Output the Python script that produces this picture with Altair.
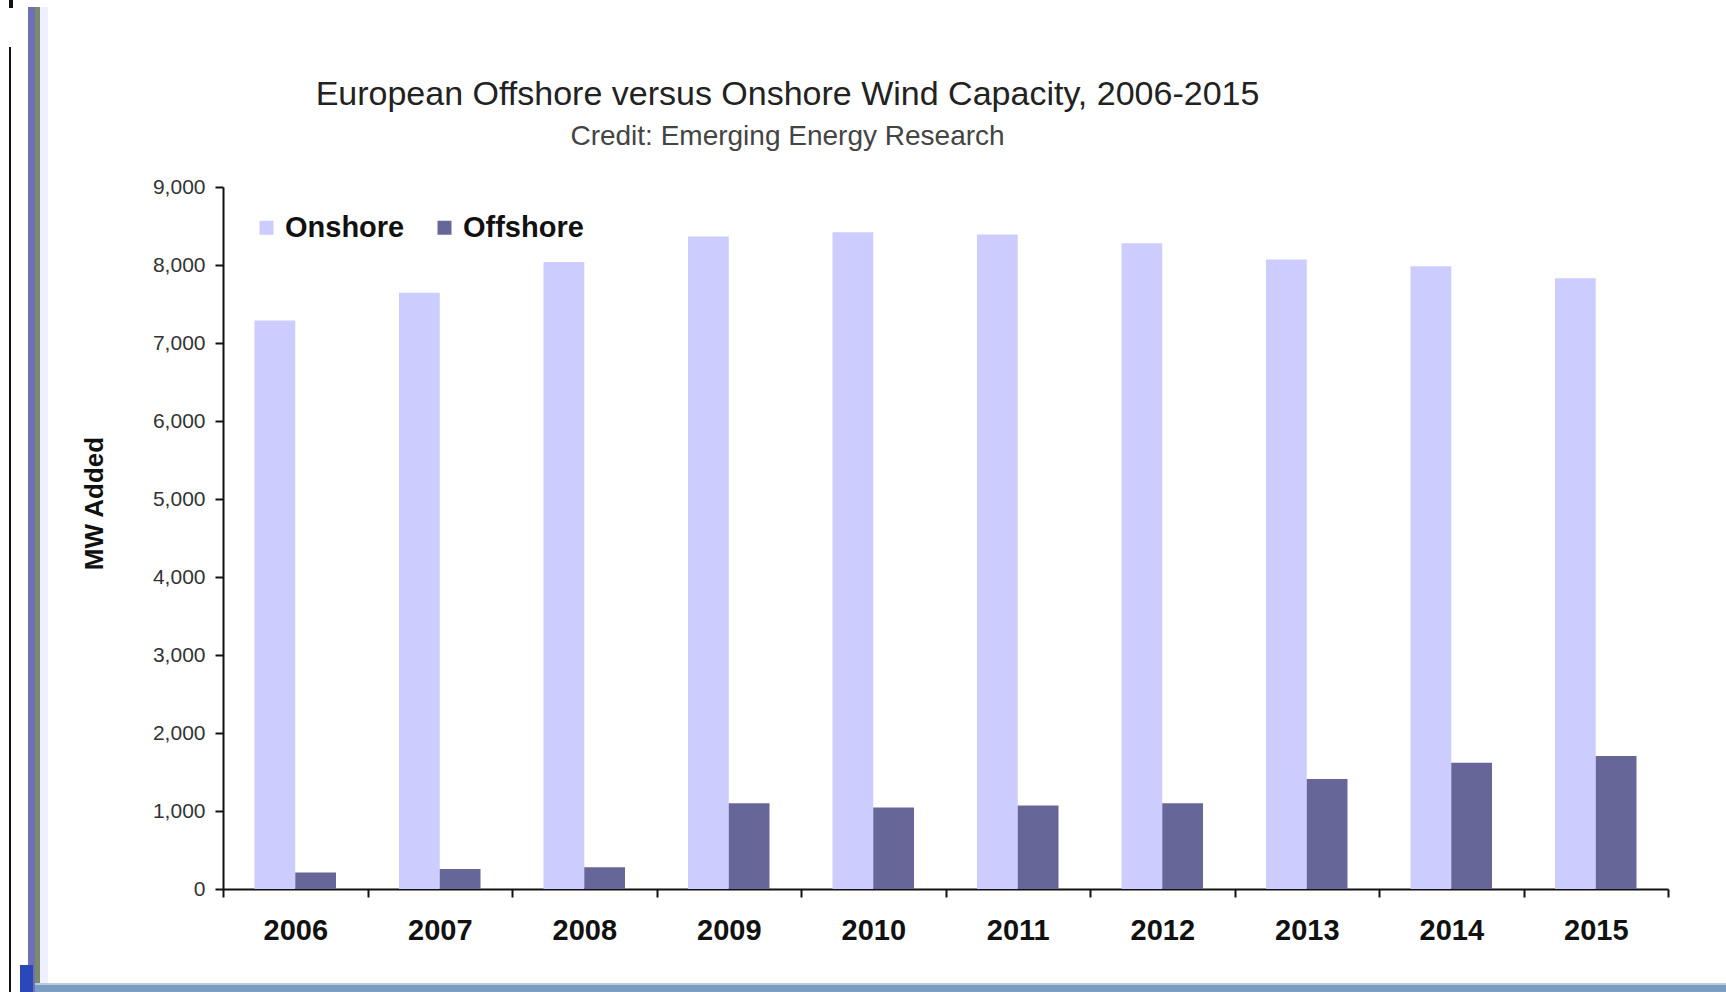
import altair as alt
import pandas as pd

years = ["2006", "2007", "2008", "2009", "2010", "2011", "2012", "2013", "2014", "2015"]
onshore = [7290, 7645, 8040, 8365, 8420, 8390, 8280, 8070, 7985, 7830]
offshore = [210, 255, 280, 1100, 1045, 1070, 1100, 1410, 1620, 1705]
series = ["Onshore", "Offshore"]
colors = ["#CCCCFF", "#666699"]
y_ticks = [0, 1000, 2000, 3000, 4000, 5000, 6000, 7000, 8000, 9000]

df = pd.DataFrame({
    "Year": years + years,
    "Series": [series[0]] * len(years) + [series[1]] * len(years),
    "MW": onshore + offshore,
})

bars = alt.Chart(df).mark_bar().encode(
    x=alt.X(
        "Year:N",
        sort=years,
        scale=alt.Scale(paddingInner=0, paddingOuter=0),
        axis=alt.Axis(
            title=None, tickBand="extent", labelAngle=0, labelFont="Liberation Sans",
            labelFontSize=29, labelFontWeight="bold", labelColor="#111111",
            labelPadding=19, tickSize=8, tickWidth=2, tickColor="#111111",
            domainColor="#111111", domainWidth=2, grid=False,
        ),
    ),
    xOffset=alt.XOffset("Series:N", sort=series,
                        scale=alt.Scale(paddingInner=0, paddingOuter=0.773)),
    y=alt.Y(
        "MW:Q",
        scale=alt.Scale(domain=[0, 9000], nice=False),
        axis=alt.Axis(
            values=y_ticks, format=",d", title="MW Added",
            titleFont="Liberation Sans", titleFontSize=26, titleFontWeight="bold",
            titleColor="#111111", titleAngle=270, titleX=-129, titleY=316,
            titleAlign="center", titleBaseline="middle",
            labelFont="Liberation Sans", labelFontSize=21, labelColor="#333333",
            labelPadding=10, tickSize=8, tickWidth=2, tickColor="#111111",
            domainColor="#111111", domainWidth=2, grid=False,
        ),
    ),
    color=alt.Color(
        "Series:N",
        sort=series,
        scale=alt.Scale(domain=series, range=colors),
        legend=alt.Legend(
            title=None, orient="none", legendX=29, legendY=26, direction="horizontal",
            symbolType="square", symbolSize=196, symbolStrokeWidth=0,
            labelFont="Liberation Sans", labelFontSize=29, labelFontWeight="bold",
            labelColor="#111111", labelOffset=4, columnPadding=25,
        ),
    ),
)

deco_df = pd.DataFrame({"k": [0]})

def strip(x0, x1, y0, y1, color):
    return alt.Chart(deco_df).mark_rect(color=color).encode(
        x=alt.value(x0), x2=alt.value(x1), y=alt.value(y0), y2=alt.value(y1)
    )

decor = [
    strip(-195, -188, -180, 805, "#6F6FB5"),
    strip(-188, -183, -180, 805, "#7A8A6A"),
    strip(-183, -175, -180, 805, "#EEF0FF"),
    strip(-214, -212, -140, 805, "#111111"),
    strip(-214, -210, -187, -179, "#111111"),
    strip(-188, 1503, 796, 798, "#B8CCE0"),
    strip(-188, 1503, 798, 805, "#7C9DC2"),
    strip(-203, -190, 778, 805, "#2A48B8"),
]

chart = alt.layer(bars, *decor).properties(
    width=1445,
    height=702,
    autosize=alt.AutoSizeParams(type="none"),
    padding={"left": 223, "top": 187, "right": 58, "bottom": 103},
    background="white",
    title=alt.TitleParams(
        text="European Offshore versus Onshore Wind Capacity, 2006-2015",
        subtitle="Credit: Emerging Energy Research",
        anchor="middle", dx=-158, dy=181, offset=30,
        font="Liberation Sans", fontSize=34, fontWeight="normal", color="#222222",
        subtitleFont="Liberation Sans", subtitleFontSize=28, subtitleColor="#444444",
        subtitlePadding=11,
    ),
).configure_view(stroke=None)

chart.save("out.html", embed_options={"renderer": "svg", "actions": False})
